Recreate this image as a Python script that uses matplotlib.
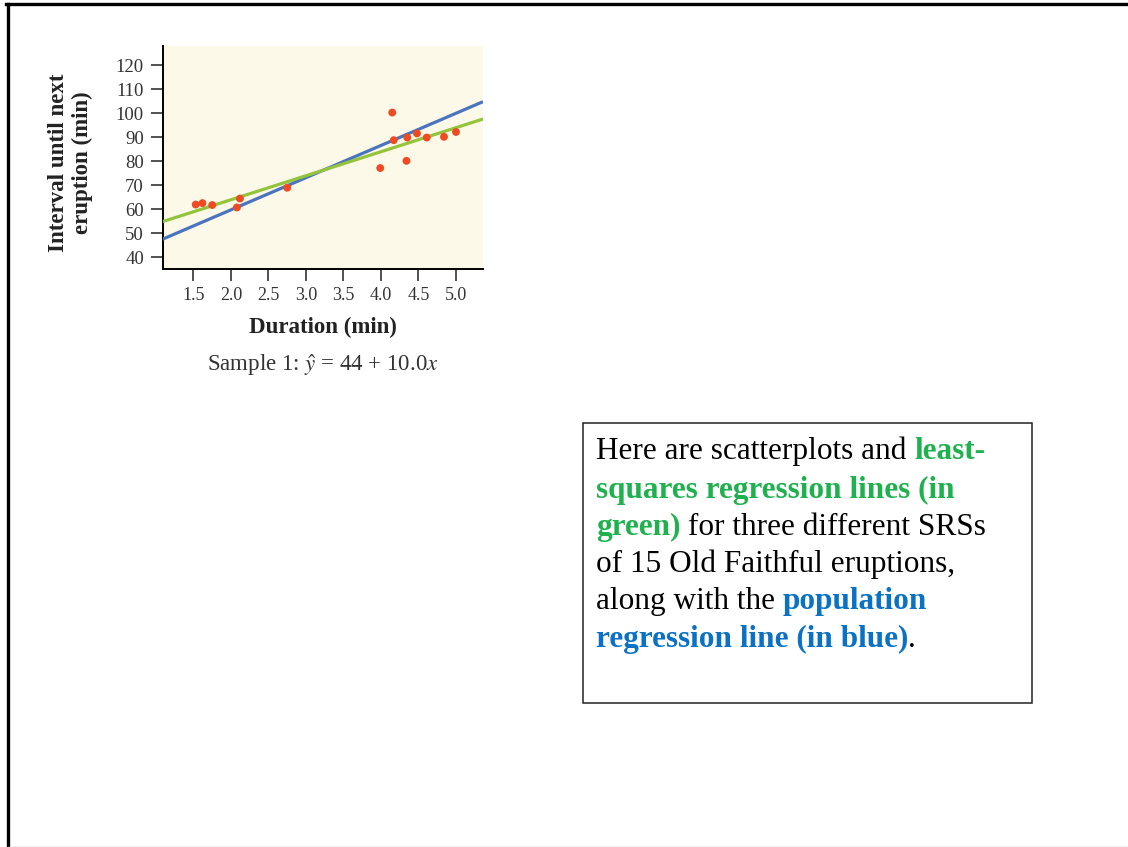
import matplotlib
matplotlib.use("Agg")
import matplotlib.pyplot as plt
from matplotlib.lines import Line2D
from matplotlib.patches import Rectangle

plt.rcParams["font.family"] = ["Liberation Serif", "DejaVu Serif"]
plt.rcParams["mathtext.fontset"] = "stix"

# Sample 1: 15 eruptions (duration, interval)
duration = [1.53, 1.62, 1.75, 2.08, 2.12, 2.75, 3.99, 4.15, 4.17,
            4.34, 4.35, 4.48, 4.61, 4.84, 5.00]
interval = [62.0, 62.6, 61.8, 60.8, 64.5, 69.0, 77.2, 100.3, 88.8,
            80.2, 89.9, 91.6, 89.9, 90.2, 92.2]

# fitted sample line and population line (intercept, slope)
sample_fit = (44.0, 10.0)
population_fit = (33.0, 13.4)

x_ticks = [1.5, 2.0, 2.5, 3.0, 3.5, 4.0, 4.5, 5.0]
y_ticks = [40, 50, 60, 70, 80, 90, 100, 110, 120]

W, H = 1128, 847
fig = plt.figure(figsize=(W / 100, H / 100), dpi=100)
fig.patch.set_facecolor("white")

ax = fig.add_axes([162.7 / W, 1 - 268.7 / H, 320.3 / W, 222.7 / H])
ax.set_facecolor("#fdf9e9")
ax.set_xlim(1.09, 5.36)
ax.set_ylim(35.3, 128.0)

xs = [1.09, 5.36]
ax.plot(xs, [population_fit[0] + population_fit[1] * x for x in xs],
        color="#4a74bd", lw=2.3, zorder=3, solid_capstyle="butt")
ax.plot(xs, [sample_fit[0] + sample_fit[1] * x for x in xs],
        color="#94c43c", lw=2.3, zorder=4, solid_capstyle="butt")
ax.scatter(duration, interval, s=32, color="#ef4b22", zorder=5,
           edgecolors="none")

for side in ("top", "right"):
    ax.spines[side].set_visible(False)
for side in ("left", "bottom"):
    ax.spines[side].set_linewidth(1.4)
ax.set_xticks(x_ticks)
ax.set_xticklabels([f"{v:.1f}" for v in x_ticks])
ax.set_yticks(y_ticks)
ax.tick_params(axis="both", length=8.5, width=1.2,
               colors="#333333", labelcolor="#333333")
ax.tick_params(axis="y", pad=5, labelsize=13.5)
ax.tick_params(axis="x", pad=5, labelsize=13)
ax.set_xlabel("Duration (min)", fontsize=16.5, fontweight="bold",
              color="#222222")
ax.xaxis.set_label_coords(0.5, -0.215)
ax.set_ylabel("Interval until next\neruption (min)", fontsize=16.5,
              fontweight="bold", color="#222222", linespacing=1.15)
ax.yaxis.set_label_coords(-0.218, 0.477)

fig.text(323 / W, 1 - 371 / H, r"Sample 1: $\hat{y}$ = 44 + 10.0$x$",
         ha="center", va="baseline", fontsize=16.5, color="#333333")

# slide frame
fig.add_artist(Line2D([7.5 / W, 7.5 / W], [0, 1 - 4.5 / H],
                      color="black", lw=2.4, transform=fig.transFigure))
fig.add_artist(Line2D([6 / W, 1], [1 - 4.5 / H, 1 - 4.5 / H],
                      color="black", lw=2.4, transform=fig.transFigure))
fig.add_artist(Line2D([7.5 / W, 1], [0.5 / H, 0.5 / H],
                      color="#c8c8c8", lw=1.0, transform=fig.transFigure))

# explanatory text box
fig.add_artist(Rectangle((583 / W, 1 - 703 / H), 449 / W, 280 / H,
                         transform=fig.transFigure, fill=False,
                         edgecolor="#222222", lw=1.1))

GREEN = "#1fb14e"
BLUE = "#0b71c5"
BLACK = "#000000"
lines = [
    [("Here are scatterplots and ", BLACK, "normal"), ("least-", GREEN, "bold")],
    [("squares regression lines (in", GREEN, "bold")],
    [("green)", GREEN, "bold"), (" for three different SRSs", BLACK, "normal")],
    [("of 15 Old Faithful eruptions,", BLACK, "normal")],
    [("along with the ", BLACK, "normal"), ("population", BLUE, "bold")],
    [("regression line (in blue)", BLUE, "bold"), (".", BLACK, "normal")],
]
baselines = [459, 497.5, 534.5, 572, 609.5, 647]

for pieces, yb in zip(lines, baselines):
    yf = 1 - yb / H
    prev = None
    for text, color, weight in pieces:
        if prev is None:
            prev = fig.text(596 / W, yf, text, color=color, fontweight=weight,
                            fontsize=22.5, ha="left", va="baseline")
        else:
            prev = ax.annotate(text, xy=(1, yf),
                               xycoords=(prev, "figure fraction"),
                               color=color, fontweight=weight, fontsize=22.5,
                               ha="left", va="baseline", annotation_clip=False)

fig.savefig("out.png", dpi=100)
